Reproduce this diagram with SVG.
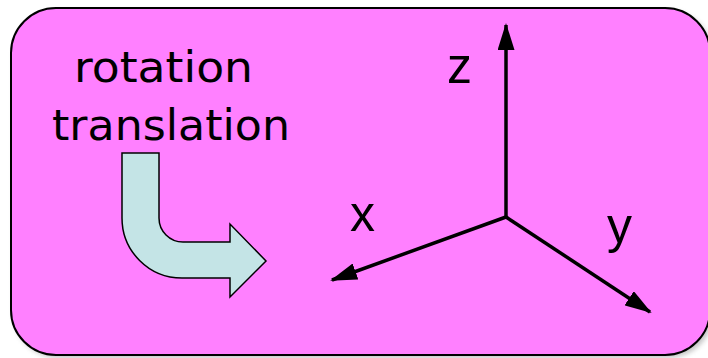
<svg xmlns="http://www.w3.org/2000/svg" width="708" height="358" viewBox="0 0 708 358">
<style>
.lbl{font-family:"DejaVu Sans","Liberation Sans",sans-serif;font-size:42px;fill:#000}
.ax{font-family:"Liberation Sans",Arial,sans-serif;font-size:50px;fill:#000}
.axis{stroke:#000;stroke-width:3.5;fill:none}
</style>
<defs>
<filter id="sh" x="-5%" y="-5%" width="110%" height="110%"><feGaussianBlur stdDeviation="2.5"/></filter>
<marker id="ah" viewBox="0 0 27 17" refX="25" refY="8.5" markerWidth="27" markerHeight="17" markerUnits="userSpaceOnUse" orient="auto"><path d="M0,0 L27,8.5 L0,17 Z" fill="#000"/></marker>
</defs>
<g id="panel">
<rect x="14" y="11" width="699" height="347" rx="45" fill="#888" opacity="0.5" filter="url(#sh)"/>
<rect x="11" y="8" width="699" height="347" rx="45" fill="#FF80FF" stroke="#000" stroke-width="2"/>
</g>
<g id="label">
<text class="lbl" x="74" y="82" textLength="179" lengthAdjust="spacingAndGlyphs">rotation</text>
<text class="lbl" x="52" y="140" textLength="238" lengthAdjust="spacingAndGlyphs">translation</text>
</g>
<g id="bent-arrow">
<path d="M122,153 H159 V218 A24,24 0 0 0 183,242 H230 V224 L266,261 L230,297 V278 H182 A60,60 0 0 1 122,218 Z" fill="#C4E4E6" stroke="#000" stroke-width="1.5" stroke-linejoin="miter"/>
</g>
<g id="connectors">
<line class="axis" x1="506" y1="217" x2="506" y2="25" marker-end="url(#ah)"/>
<line class="axis" x1="506" y1="217" x2="332" y2="280" marker-end="url(#ah)"/>
<line class="axis" x1="506" y1="217" x2="650" y2="312" marker-end="url(#ah)"/>
</g>
<g id="axis-labels">
<text class="ax" x="447" y="83" textLength="25" lengthAdjust="spacingAndGlyphs">z</text>
<text class="ax" x="350" y="231" textLength="25" lengthAdjust="spacingAndGlyphs">x</text>
<text class="ax" x="607" y="243" textLength="25" lengthAdjust="spacingAndGlyphs">y</text>
</g>
</svg>
